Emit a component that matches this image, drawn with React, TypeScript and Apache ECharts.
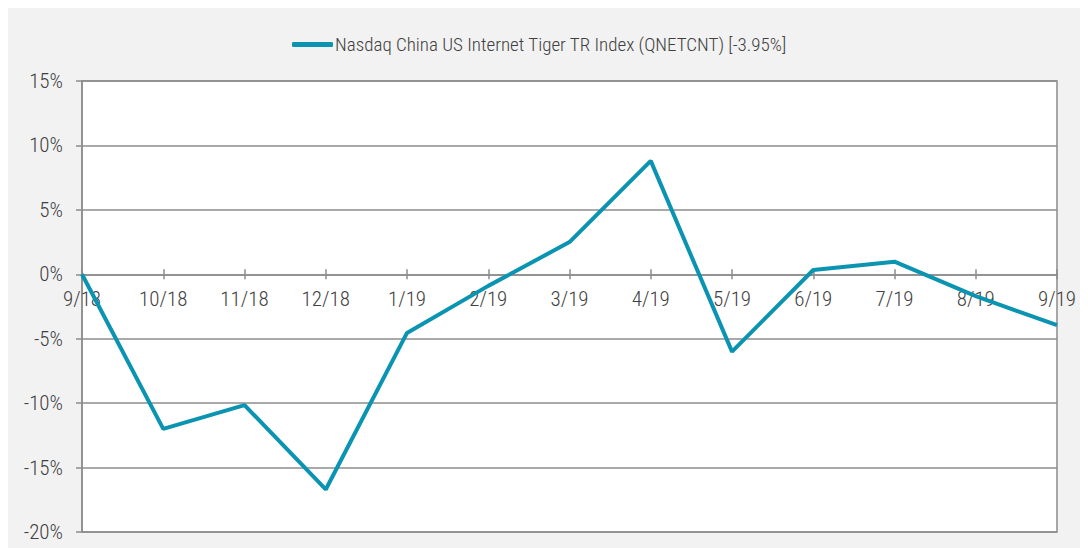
import React, { useEffect, useRef } from "react";
import * as echarts from "echarts";

const categories = ["9/18", "10/18", "11/18", "12/18", "1/19", "2/19", "3/19", "4/19", "5/19", "6/19", "7/19", "8/19", "9/19"];
const values = [0, -12.0, -10.15, -16.7, -4.55, -0.9, 2.5, 8.8, -6.0, 0.33, 0.98, -1.7, -3.95];
const seriesName = "Nasdaq China US Internet Tiger TR Index (QNETCNT) [-3.95%]";
const yMin = -20;
const yMax = 15;
const yStep = 5;

const FONT = "Roboto Condensed";
const TEXT = "#404040";
const GRID = "#8c8c8c";
const LINE = "#0a94b1";

const GRID_TOP = 73;
const GRID_BOTTOM = 16;
const HEIGHT = 540;

export default function App() {
  const ref = useRef<HTMLDivElement>(null);
  useEffect(() => {
    if (!ref.current) return;
    const chart = echarts.init(ref.current, null, { renderer: "svg" });
    const plotH = HEIGHT - GRID_TOP - GRID_BOTTOM;
    const zeroFromTop = (plotH * (yMax - 0)) / (yMax - yMin);
    const zeroFromBottom = plotH - zeroFromTop;
    chart.setOption({
      animation: false,
      backgroundColor: "#f2f2f2",
      textStyle: { fontFamily: FONT, fontWeight: 300 },
      legend: {
        show: true,
        top: 22,
        left: 279,
        icon: "roundRect",
        itemWidth: 41,
        itemHeight: 5,
        itemGap: 3,
        textStyle: { color: TEXT, fontSize: 19, fontFamily: FONT, fontWeight: 300, padding: [0, 0, 0, -3] },
        data: [{ name: seriesName, itemStyle: { color: LINE } }],
      },
      grid: {
        left: 74,
        right: 31,
        top: GRID_TOP,
        bottom: GRID_BOTTOM,
        show: true,
        backgroundColor: "#ffffff",
        borderColor: GRID,
        borderWidth: 1.5,
        containLabel: false,
        outerBoundsMode: "none",
      },
      xAxis: [
        {
          type: "category",
          data: categories,
          boundaryGap: false,
          position: "top",
          offset: -zeroFromTop,
          axisLine: { show: true, onZero: false, lineStyle: { color: GRID, width: 1.5 } },
          axisTick: { show: true, inside: false, length: 5, lineStyle: { color: GRID, width: 1.5 } },
          axisLabel: { show: true, inside: true, color: TEXT, fontSize: 21, fontFamily: FONT, fontWeight: 300, margin: 14, interval: 0 },
          splitLine: { show: false },
        },
        {
          type: "category",
          data: categories,
          boundaryGap: false,
          position: "bottom",
          offset: -zeroFromBottom,
          axisLine: { show: false, onZero: false },
          axisTick: { show: true, inside: false, length: 5, lineStyle: { color: GRID, width: 1.5 } },
          axisLabel: { show: false },
          splitLine: { show: false },
        },
      ],
      yAxis: {
        type: "value",
        min: yMin,
        max: yMax,
        interval: yStep,
        axisLine: { show: true, lineStyle: { color: GRID, width: 1.5 } },
        axisTick: { show: true, length: 6, lineStyle: { color: GRID, width: 1.5 } },
        axisLabel: { color: TEXT, fontSize: 21, fontFamily: FONT, fontWeight: 300, margin: 19, formatter: "{value}%" },
        splitLine: { show: true, lineStyle: { color: GRID, width: 1.5 } },
      },
      series: [
        {
          name: seriesName,
          type: "line",
          xAxisIndex: 0,
          data: values,
          symbol: "none",
          lineStyle: { color: LINE, width: 4 },
          itemStyle: { color: LINE },
          z: 5,
        },
      ],
    });
    return () => chart.dispose();
  }, []);
  return <div ref={ref} style={{ width: 1080, height: 540 }} />;
}
